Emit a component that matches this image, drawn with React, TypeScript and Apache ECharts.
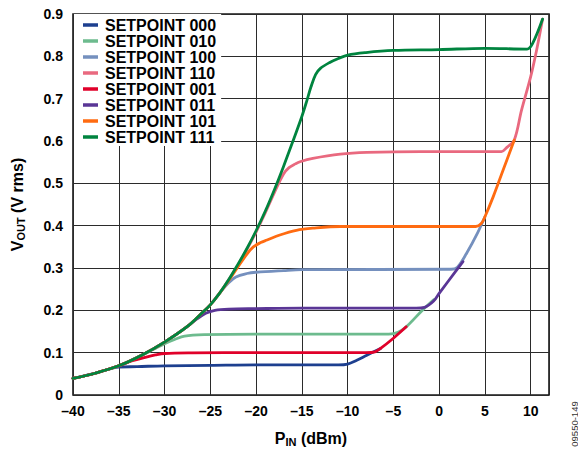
import React, { useEffect, useRef } from "react";
import * as echarts from "echarts";

const seriesNames = [
  "SETPOINT 000",
  "SETPOINT 010",
  "SETPOINT 100",
  "SETPOINT 110",
  "SETPOINT 001",
  "SETPOINT 011",
  "SETPOINT 101",
  "SETPOINT 111",
];

const seriesColors = [
  "#1d3f8f",
  "#6dbb8e",
  "#7590be",
  "#e9697f",
  "#e0002a",
  "#5a3696",
  "#ff6b11",
  "#00843f",
];

const sp000 = [
  [-40, 0.039], [-37.5, 0.052], [-35, 0.066], [-33, 0.067], [-30, 0.069], [-25, 0.07],
  [-20, 0.071], [-11, 0.071], [-10, 0.073], [-9, 0.082], [-7.9, 0.094], [-6.4, 0.11],
];
const sp010 = [
  [-40, 0.039], [-37.5, 0.052], [-35, 0.069], [-32.5, 0.094], [-31, 0.11], [-30, 0.121],
  [-28.9, 0.131], [-27.8, 0.139], [-25.6, 0.1425], [-20, 0.144], [-5.5, 0.144],
  [-4.5, 0.148], [-3.6, 0.161], [-1.8, 0.201], [-0.6, 0.225],
];
const sp100 = [
  [-40, 0.039], [-37.5, 0.052], [-35, 0.069], [-32.5, 0.094], [-30, 0.125], [-27.5, 0.162],
  [-26, 0.192], [-25, 0.213], [-24, 0.24], [-23, 0.265], [-22.2, 0.279], [-21, 0.287],
  [-20, 0.29], [-17, 0.294], [-15, 0.296], [1.3, 0.297], [2, 0.302], [3, 0.335],
  [4.2, 0.383], [5, 0.421],
];
const sp110 = [
  [-40, 0.039], [-37.5, 0.052], [-35, 0.069], [-32.5, 0.094], [-30, 0.125], [-27.5, 0.162],
  [-26, 0.192], [-25, 0.213], [-24, 0.24], [-23, 0.272], [-22, 0.306], [-21, 0.344],
  [-20, 0.385], [-19, 0.43], [-18, 0.478], [-17, 0.522], [-16.4, 0.537], [-15.7, 0.546],
  [-15.2, 0.551], [-13.8, 0.559], [-10.8, 0.569], [-7.9, 0.573], [-2, 0.575], [6.8, 0.575],
  [7.4, 0.585], [8.2, 0.602], [9, 0.673], [10, 0.752], [10.65, 0.815], [11.3, 0.888],
];
const sp001 = [
  [-40, 0.039], [-37.5, 0.052], [-35, 0.069], [-33.5, 0.081], [-32.1, 0.089], [-31, 0.0945],
  [-30, 0.098], [-27, 0.0995], [-20, 0.1], [-8, 0.1], [-7, 0.102], [-6.4, 0.11],
  [-5, 0.134], [-3.6, 0.161],
];
const sp011 = [
  [-40, 0.039], [-37.5, 0.052], [-35, 0.069], [-32.5, 0.094], [-30, 0.125], [-27.5, 0.162],
  [-26.5, 0.179], [-25.5, 0.193], [-24.5, 0.2], [-23, 0.203], [-20, 0.204], [-15, 0.205],
  [-2.5, 0.205], [-1.6, 0.207], [-0.6, 0.222], [0, 0.24], [1.9, 0.295], [2.6, 0.315],
];
const sp101 = [
  [-40, 0.039], [-37.5, 0.052], [-35, 0.069], [-32.5, 0.094], [-30, 0.125], [-27.5, 0.162],
  [-26, 0.192], [-25, 0.213], [-24, 0.24], [-23, 0.27], [-22, 0.302], [-21, 0.333],
  [-20.3, 0.35], [-19.5, 0.36], [-18.8, 0.366], [-17.4, 0.378], [-15.6, 0.389],
  [-13.8, 0.394], [-10.8, 0.398], [4, 0.398], [4.6, 0.405], [5, 0.421], [5.9, 0.468],
  [7, 0.532], [8.2, 0.602],
];
const sp111 = [
  [-40, 0.039], [-37.5, 0.052], [-35, 0.069], [-32.5, 0.094], [-30, 0.125], [-27.5, 0.162],
  [-26, 0.192], [-25, 0.213], [-24, 0.24], [-23, 0.272], [-22, 0.308], [-21, 0.346],
  [-20, 0.388], [-19, 0.434], [-18, 0.485], [-17, 0.54], [-16, 0.598], [-15, 0.658],
  [-14.5, 0.692], [-14, 0.728], [-13.5, 0.757], [-13, 0.771], [-12, 0.785], [-11, 0.795],
  [-10, 0.803], [-8, 0.809], [-5, 0.814], [0, 0.816], [5, 0.819], [9.6, 0.817],
  [10.2, 0.83], [11.3, 0.888],
];

const seriesData = [sp000, sp010, sp100, sp110, sp001, sp011, sp101, sp111];

const xMin = -40;
const xMax = 12;
const xStep = 5;
const yMin = 0;
const yMax = 0.9;
const yStep = 0.1;

export default function App() {
  const ref = useRef<HTMLDivElement>(null);
  useEffect(() => {
    if (!ref.current) return;
    const chart = echarts.init(ref.current, null, { renderer: "svg" });
    const font = "Arial, 'Liberation Sans', Helvetica, sans-serif";
    chart.setOption({
      animation: false,
      backgroundColor: "#ffffff",
      textStyle: { fontFamily: font },
      grid: {
        left: 73,
        right: 29,
        top: 14,
        bottom: 58,
        show: true,
        borderColor: "#1a1a1a",
        borderWidth: 1.6,
        backgroundColor: "transparent",
      },
      legend: {
        orient: "vertical",
        left: 74,
        top: 14,
        icon: "rect",
        itemWidth: 15,
        itemHeight: 3.5,
        itemGap: 0,
        backgroundColor: "#ffffff",
        padding: [3, 5, 1, 9],
        data: seriesNames,
        textStyle: {
          fontFamily: font,
          fontWeight: "bold",
          fontSize: 16,
          lineHeight: 16,
          color: "#000",
          padding: [0, 0, 0, 2],
        },
      },
      xAxis: {
        type: "value",
        min: xMin,
        max: xMax,
        interval: xStep,
        axisLine: { show: false },
        axisTick: { show: false },
        splitLine: { show: true, lineStyle: { color: "#2b2b2b", width: 1 } },
        axisLabel: {
          margin: 9,
          showMaxLabel: false,
          color: "#000",
          fontWeight: "bold",
          fontSize: 14,
          fontFamily: font,
          formatter: (v: number) => (v === xMax ? "" : v < 0 ? "\u2013" + Math.abs(v) : String(v)),
        },
        name: "{a|P}{b|IN}{a| (dBm)}",
        nameLocation: "middle",
        nameGap: 34,
        nameTextStyle: {
          rich: {
            a: { fontFamily: font, fontWeight: "bold", fontSize: 16, color: "#000", lineHeight: 18 },
            b: { fontFamily: font, fontWeight: "bold", fontSize: 11, color: "#000", lineHeight: 10, verticalAlign: "bottom" },
          },
        },
      },
      yAxis: {
        type: "value",
        min: yMin,
        max: yMax,
        interval: yStep,
        axisLine: { show: false },
        axisTick: { show: false },
        splitLine: { show: true, lineStyle: { color: "#2b2b2b", width: 1 } },
        axisLabel: {
          margin: 10,
          color: "#000",
          fontWeight: "bold",
          fontSize: 14,
          fontFamily: font,
          formatter: (v: number) => (Math.abs(v) < 1e-9 ? "0" : v.toFixed(1)),
        },
        name: "{a|V}{b|OUT}{a| (V rms)}",
        nameLocation: "middle",
        nameRotate: 90,
        nameGap: 47,
        nameTextStyle: {
          rich: {
            a: { fontFamily: font, fontWeight: "bold", fontSize: 16, color: "#000", lineHeight: 18 },
            b: { fontFamily: font, fontWeight: "bold", fontSize: 11, color: "#000", lineHeight: 10, verticalAlign: "bottom" },
          },
        },
      },
      graphic: [
        {
          type: "text",
          x: 574,
          y: 424,
          rotation: Math.PI / 2,
          style: {
            text: "09550-149",
            fontFamily: font,
            fontSize: 9.5,
            fill: "#333",
            textAlign: "center",
            textVerticalAlign: "middle",
          },
        },
      ],
      series: seriesNames.map((name, i) => ({
        name,
        type: "line",
        data: seriesData[i],
        showSymbol: false,
        smooth: 0.35,
        color: seriesColors[i],
        lineStyle: { width: 2.8, color: seriesColors[i], cap: "round", join: "round" },
        z: 2 + i,
      })),
    });
    return () => chart.dispose();
  }, []);
  return (
    <div
      ref={ref}
      style={{ position: "fixed", left: 0, top: 0, width: 578, height: 453 }}
    />
  );
}
